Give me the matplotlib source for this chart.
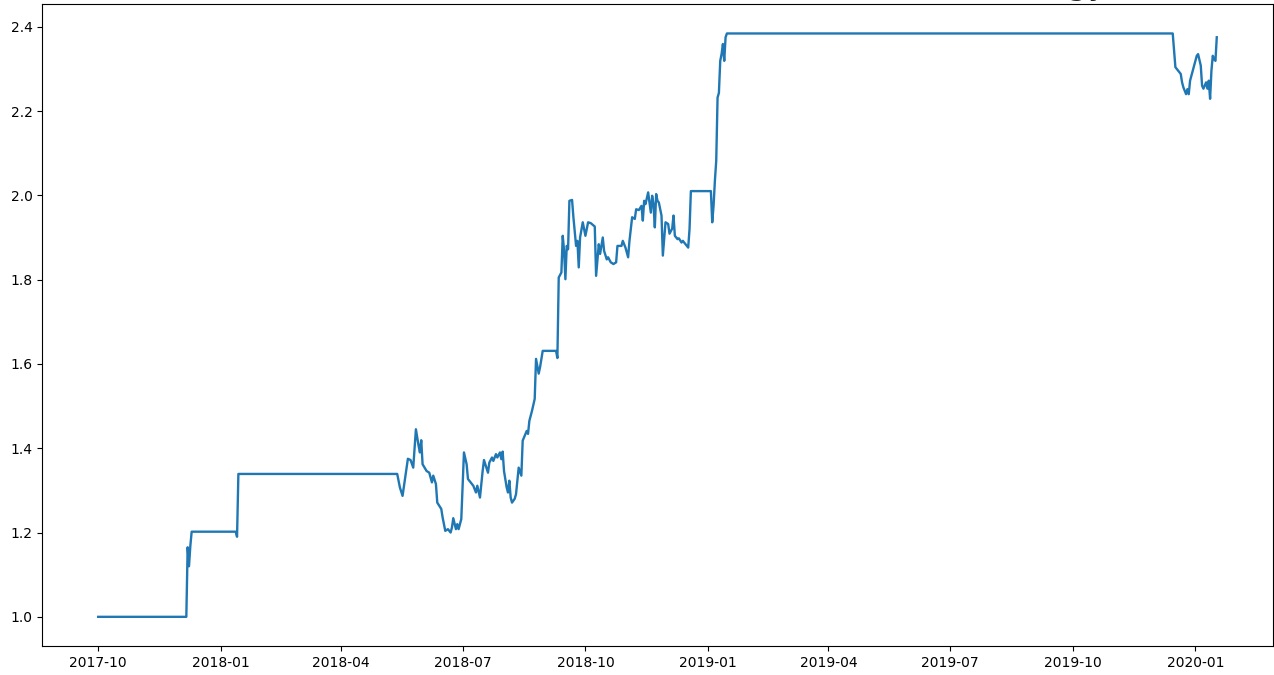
import pandas as pd
import matplotlib
matplotlib.use("Agg")
import matplotlib.pyplot as plt
import matplotlib.dates as mdates

# strategy equity curve (net value), daily points where it changes
dates = [
    "2017-10-01", "2017-12-06", "2017-12-07", "2017-12-08", "2017-12-09", "2017-12-10",
    "2018-01-12", "2018-01-13", "2018-01-14", "2018-05-13",
    "2018-05-15", "2018-05-17", "2018-05-21", "2018-05-23", "2018-05-25", "2018-05-27",
    "2018-05-29", "2018-05-30", "2018-05-31", "2018-06-01", "2018-06-04", "2018-06-06",
    "2018-06-08", "2018-06-09", "2018-06-11", "2018-06-12", "2018-06-15", "2018-06-16",
    "2018-06-18", "2018-06-20", "2018-06-22", "2018-06-23", "2018-06-24", "2018-06-26",
    "2018-06-27", "2018-06-28", "2018-06-30", "2018-07-02", "2018-07-04", "2018-07-05",
    "2018-07-07", "2018-07-09", "2018-07-11", "2018-07-12", "2018-07-14", "2018-07-16",
    "2018-07-17", "2018-07-20", "2018-07-21", "2018-07-23", "2018-07-24", "2018-07-26",
    "2018-07-27", "2018-07-29", "2018-07-30", "2018-07-31", "2018-08-01", "2018-08-03",
    "2018-08-04", "2018-08-05", "2018-08-06", "2018-08-07", "2018-08-09", "2018-08-10",
    "2018-08-12", "2018-08-14", "2018-08-15", "2018-08-18", "2018-08-19", "2018-08-20",
    "2018-08-22", "2018-08-24", "2018-08-25", "2018-08-27", "2018-08-28", "2018-08-30",
    "2018-09-09", "2018-09-10", "2018-09-11", "2018-09-13", "2018-09-14", "2018-09-15",
    "2018-09-16", "2018-09-17", "2018-09-18", "2018-09-19", "2018-09-21", "2018-09-22",
    "2018-09-24", "2018-09-25", "2018-09-26", "2018-09-27", "2018-09-29", "2018-10-01",
    "2018-10-03", "2018-10-05", "2018-10-08", "2018-10-09", "2018-10-11", "2018-10-12",
    "2018-10-14", "2018-10-15", "2018-10-17", "2018-10-18", "2018-10-20", "2018-10-22",
    "2018-10-24", "2018-10-25", "2018-10-28", "2018-10-29", "2018-10-31", "2018-11-02",
    "2018-11-03", "2018-11-05", "2018-11-07", "2018-11-08", "2018-11-10", "2018-11-12",
    "2018-11-13", "2018-11-14", "2018-11-15", "2018-11-17", "2018-11-19", "2018-11-20",
    "2018-11-21", "2018-11-22", "2018-11-23", "2018-11-24", "2018-11-25", "2018-11-27",
    "2018-11-28", "2018-11-30", "2018-12-02", "2018-12-03", "2018-12-05", "2018-12-06",
    "2018-12-07", "2018-12-09", "2018-12-10", "2018-12-12", "2018-12-13", "2018-12-15",
    "2018-12-17", "2018-12-18", "2018-12-19", "2019-01-03", "2019-01-04", "2019-01-05",
    "2019-01-06", "2019-01-07", "2019-01-08", "2019-01-09", "2019-01-10", "2019-01-11",
    "2019-01-12", "2019-01-13", "2019-01-14", "2019-01-15", "2019-12-15", "2019-12-17",
    "2019-12-19", "2019-12-21", "2019-12-22", "2019-12-23", "2019-12-25", "2019-12-26",
    "2019-12-27", "2019-12-28", "2019-12-30", "2019-12-31", "2020-01-02", "2020-01-03",
    "2020-01-05", "2020-01-06", "2020-01-07", "2020-01-09", "2020-01-10", "2020-01-11",
    "2020-01-12", "2020-01-13", "2020-01-14", "2020-01-15", "2020-01-16", "2020-01-17",
]
net_value = [
    1.000, 1.000, 1.165, 1.120, 1.168, 1.202,
    1.202, 1.190, 1.339, 1.339,
    1.307, 1.287, 1.375, 1.372, 1.354, 1.445,
    1.406, 1.390, 1.419, 1.362, 1.346, 1.342,
    1.319, 1.335, 1.315, 1.271, 1.256, 1.236,
    1.204, 1.208, 1.200, 1.212, 1.234, 1.208,
    1.220, 1.208, 1.232, 1.390, 1.362, 1.327,
    1.319, 1.311, 1.295, 1.311, 1.283, 1.346,
    1.372, 1.342, 1.366, 1.378, 1.370, 1.386,
    1.378, 1.390, 1.374, 1.392, 1.346, 1.307,
    1.295, 1.323, 1.283, 1.271, 1.280, 1.291,
    1.354, 1.335, 1.418, 1.441, 1.434, 1.465,
    1.489, 1.517, 1.612, 1.577, 1.592, 1.631,
    1.631, 1.614, 1.805, 1.817, 1.904, 1.869,
    1.801, 1.880, 1.872, 1.987, 1.989, 1.948,
    1.880, 1.892, 1.829, 1.900, 1.936, 1.904,
    1.936, 1.934, 1.926, 1.809, 1.884, 1.861,
    1.900, 1.868, 1.848, 1.853, 1.841, 1.837,
    1.841, 1.880, 1.880, 1.892, 1.876, 1.853,
    1.892, 1.948, 1.944, 1.967, 1.965, 1.975,
    1.940, 1.987, 1.979, 2.007, 1.959, 1.999,
    1.979, 1.924, 2.003, 1.987, 1.983, 1.952,
    1.857, 1.936, 1.932, 1.909, 1.921, 1.952,
    1.904, 1.896, 1.898, 1.888, 1.892, 1.884,
    1.876, 1.920, 2.010, 2.010, 1.936, 1.975,
    2.035, 2.082, 2.232, 2.243, 2.319, 2.335,
    2.359, 2.319, 2.375, 2.384, 2.384, 2.304,
    2.296, 2.288, 2.268, 2.256, 2.240, 2.252,
    2.240, 2.272, 2.296, 2.308, 2.331, 2.335,
    2.308, 2.260, 2.253, 2.268, 2.253, 2.272,
    2.229, 2.296, 2.331, 2.323, 2.319, 2.375,
]

dates = pd.to_datetime(dates)

W, H = 1274, 675
fig = plt.figure(figsize=(W / 100, H / 100), dpi=100)
ax = fig.add_axes([42.3 / W, 1 - 646 / H, (1272.7 - 42.3) / W, (646 - 4.3) / H])

ax.plot(dates, net_value, color="tab:blue", linewidth=1.7)

ax.xaxis.set_major_locator(mdates.MonthLocator(bymonth=[1, 4, 7, 10]))
ax.xaxis.set_major_formatter(mdates.DateFormatter("%Y-%m"))
ax.set_yticks([1.0, 1.2, 1.4, 1.6, 1.8, 2.0, 2.2, 2.4])

# title sits above the top edge, only the descenders show
fig.text(1108 / W, 1 + 6 / H, "Cumulative Return of Strategy",
         ha="right", va="baseline", fontsize=24, color="#222222")

fig.savefig("out.png", dpi=100)
